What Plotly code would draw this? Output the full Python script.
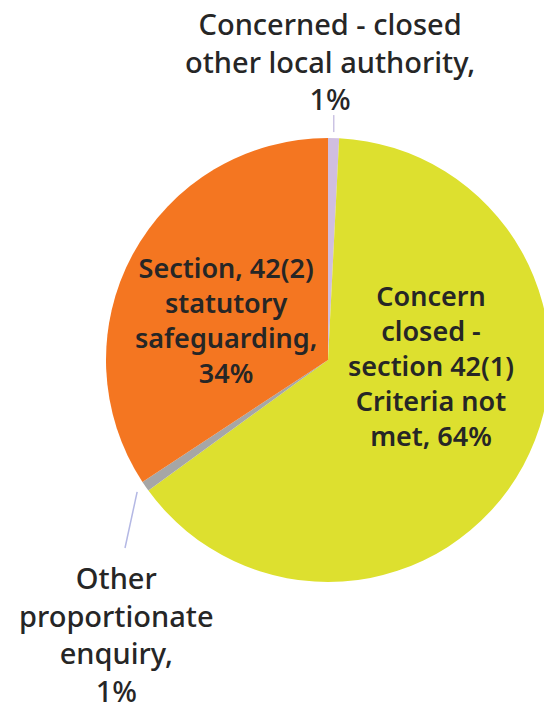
import math
import plotly.graph_objects as go

labels = [
    "Concerned - closed other local authority",
    "Concern closed - section 42(1) Criteria not met",
    "Other proportionate enquiry",
    "Section, 42(2) statutory safeguarding",
]
label_text = [
    "Concerned - closed<br>other local authority,<br>",
    "Concern<br>closed -<br>section 42(1)<br>Criteria not<br>met, ",
    "Other<br>proportionate<br>enquiry,<br>",
    "Section, 42(2)<br>statutory<br>safeguarding,<br>",
]
values = [0.8, 64.2, 0.75, 34.25]
colors = ["#D0BEE0", "#DDE02F", "#A6A6A6", "#F47621"]

# The pie in the reference runs a few pixels past the right edge of the
# 544 px window, so the figure is drawn slightly wider and clipped.
W, H = 552, 706
CX, CY, R = 328, 360, 222  # pie centre / radius in pixels

fig = go.Figure(go.Pie(
    labels=labels,
    values=values,
    textinfo="none",
    sort=False,
    direction="clockwise",
    rotation=0,
    marker=dict(colors=colors, line=dict(width=0)),
    hoverinfo="label+percent",
    domain=dict(x=[(CX - R) / W, (CX + R) / W],
                y=[1 - (CY + R) / H, 1 - (CY - R) / H]),
))

total = sum(values)
pct = [f"{round(100 * v / total):.0f}%" for v in values]

label_pos = [
    dict(x=330, y=120, yanchor="bottom", size=29, weight=500),
    dict(x=431, y=365, yanchor="middle", size=27, weight=600),
    dict(x=116, y=556, yanchor="top", size=29, weight=500),
    dict(x=226, y=320, yanchor="middle", size=27, weight=600),
]
for txt, p, lp in zip(label_text, pct, label_pos):
    fig.add_annotation(
        x=lp["x"] / W, y=1 - lp["y"] / H, xref="paper", yref="paper",
        text=txt + p, showarrow=False, align="center",
        xanchor="center", yanchor=lp["yanchor"],
        font=dict(family="Noto Sans", size=lp["size"], color="#262626",
                  weight=lp["weight"]),
    )

cum = 0
mids = []
for v in values:
    mids.append((cum + v / 2) / total * 360)
    cum += v

def pt(angle, r):
    a = math.radians(angle)
    return CX + r * math.sin(a), CY - r * math.cos(a)

x0, y0 = pt(mids[0], R + 6)
x1, y1 = pt(mids[0], R + 23)
fig.add_shape(type="line", xref="paper", yref="paper",
              x0=x0 / W, y0=1 - y0 / H, x1=x0 / W, y1=1 - y1 / H,
              line=dict(color="#CBC3E3", width=1.5))
x0, y0 = pt(mids[2], R + 10)
fig.add_shape(type="line", xref="paper", yref="paper",
              x0=x0 / W, y0=1 - y0 / H, x1=125 / W, y1=1 - 548 / H,
              line=dict(color="#B4B8E4", width=1.5))

fig.update_layout(
    width=W, height=H,
    margin=dict(l=0, r=0, t=0, b=0),
    showlegend=False,
    paper_bgcolor="white",
)
fig.write_html(
    "out.html",
    post_script="document.documentElement.style.overflow='hidden';"
                "document.body.style.overflow='hidden';",
)
